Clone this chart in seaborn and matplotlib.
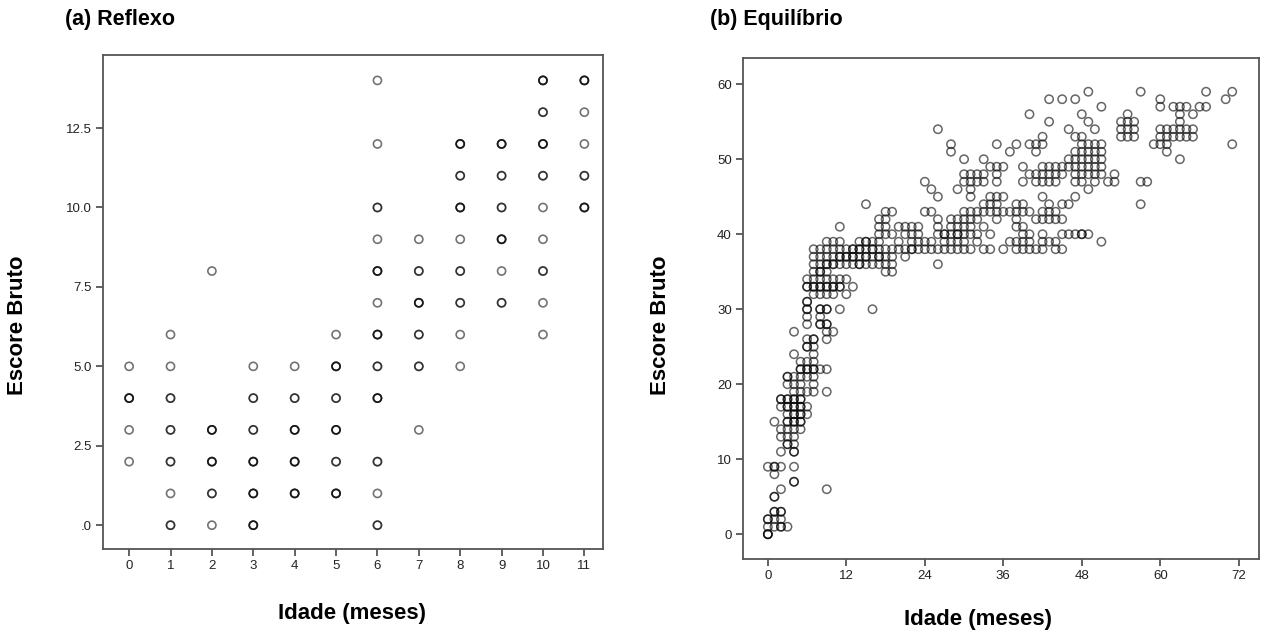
import numpy as np
import pandas as pd
import matplotlib
matplotlib.use("Agg")
import matplotlib.pyplot as plt
import seaborn as sns

# ---- (a) Reflexo: age in months, raw score, number of children at that point
reflexo_idade = [0, 0, 0, 0,
                 1, 1, 1, 1, 1, 1, 1,
                 2, 2, 2, 2, 2,
                 3, 3, 3, 3, 3, 3,
                 4, 4, 4, 4, 4,
                 5, 5, 5, 5, 5, 5,
                 6, 6, 6, 6, 6, 6, 6, 6, 6, 6, 6, 6,
                 7, 7, 7, 7, 7, 7,
                 8, 8, 8, 8, 8, 8, 8, 8,
                 9, 9, 9, 9, 9, 9,
                 10, 10, 10, 10, 10, 10, 10, 10, 10,
                 11, 11, 11, 11, 11]
reflexo_escore = [2, 3, 4, 5,
                  0, 1, 2, 3, 4, 5, 6,
                  0, 1, 2, 3, 8,
                  0, 1, 2, 3, 4, 5,
                  1, 2, 3, 4, 5,
                  1, 2, 3, 4, 5, 6,
                  0, 1, 2, 4, 5, 6, 7, 8, 9, 10, 12, 14,
                  3, 5, 6, 7, 8, 9,
                  5, 6, 7, 8, 9, 10, 11, 12,
                  7, 8, 9, 10, 11, 12,
                  6, 7, 8, 9, 10, 11, 12, 13, 14,
                  10, 11, 12, 13, 14]
reflexo_n = [1, 1, 3, 1,
             2, 1, 2, 2, 2, 1, 1,
             1, 2, 3, 3, 1,
             3, 3, 3, 2, 2, 1,
             3, 3, 3, 2, 1,
             3, 2, 3, 2, 3, 1,
             2, 1, 2, 3, 2, 3, 1, 3, 1, 2, 1, 1,
             1, 2, 2, 3, 2, 1,
             1, 1, 2, 2, 1, 3, 2, 3,
             2, 1, 3, 2, 2, 3,
             1, 1, 2, 1, 1, 2, 3, 2, 3,
             3, 2, 1, 1, 3]

reflexo_yticks = [0, 2.5, 5.0, 7.5, 10.0, 12.5]
reflexo_yticklabels = [".0", "2.5", "5.0", "7.5", "10.0", "12.5"]
reflexo_xticks = list(range(12))

# ---- (b) Equilíbrio: scores observed at each age (months)
equilibrio_idade = list(range(0, 68)) + [70, 71]
equilibrio_escores = [
    [0, 0, 0, 1, 2, 2, 9],
    [1, 2, 3, 3, 5, 5, 8, 9, 9, 15],
    [1, 1, 2, 3, 3, 6, 9, 11, 13, 14, 17, 18, 18],
    [1, 12, 12, 13, 14, 15, 15, 16, 17, 17, 18, 18, 20, 21, 21],
    [7, 7, 9, 11, 11, 12, 13, 14, 15, 15, 16, 16, 17, 17, 18, 18, 19, 20, 21, 24, 27],
    [14, 15, 15, 16, 16, 17, 17, 18, 18, 19, 20, 21, 22, 22, 23],
    [16, 17, 19, 21, 22, 22, 23, 25, 25, 26, 28, 29, 30, 30, 31, 31, 33, 33, 34],
    [19, 20, 21, 22, 22, 23, 24, 25, 26, 26, 32, 33, 33, 34, 35, 36, 37, 38],
    [22, 28, 28, 29, 30, 30, 32, 33, 33, 34, 35, 35, 36, 37, 38],
    [6, 19, 22, 26, 27, 28, 28, 30, 30, 32, 33, 33, 34, 35, 36, 36, 37, 38, 39],
    [27, 32, 33, 33, 34, 36, 36, 37, 38, 39],
    [30, 33, 33, 34, 36, 37, 37, 38, 39, 41],
    [32, 34, 36, 37, 37, 38],
    [33, 36, 37, 37, 38, 38],
    [36, 36, 37, 38, 38, 39],
    [36, 37, 37, 38, 39, 39, 44],
    [30, 36, 37, 38, 38, 39],
    [36, 37, 37, 38, 39, 40, 41, 42],
    [35, 36, 37, 38, 40, 41, 42, 43],
    [35, 36, 37, 38, 40, 43],
    [38, 39, 41],
    [37, 38, 40, 41],
    [38, 38, 39, 40, 41],
    [38, 39, 40, 41],
    [38, 39, 43, 47],
    [38, 39, 43, 46],
    [36, 38, 40, 41, 42, 45, 54],
    [38, 39, 40, 40],
    [38, 39, 40, 41, 42, 51, 52],
    [38, 39, 40, 40, 41, 42, 46],
    [38, 39, 40, 41, 42, 43, 47, 48, 50],
    [38, 40, 41, 42, 43, 45, 46, 47, 48],
    [39, 40, 42, 43, 47, 48],
    [38, 41, 43, 44, 47, 48, 50],
    [38, 40, 43, 44, 45, 49],
    [42, 43, 44, 45, 47, 48, 49, 52],
    [38, 43, 45, 49],
    [39, 43, 51],
    [38, 39, 41, 42, 43, 44, 52],
    [38, 39, 40, 41, 43, 44, 47, 49],
    [38, 39, 40, 43, 48, 52, 56],
    [38, 42, 47, 48, 51, 52],
    [38, 39, 40, 42, 43, 45, 47, 48, 49, 52, 53],
    [39, 42, 43, 44, 47, 48, 49, 55, 58],
    [38, 39, 42, 43, 47, 48, 49],
    [38, 40, 42, 44, 48, 49, 58],
    [40, 44, 49, 50, 54],
    [40, 45, 47, 48, 49, 50, 51, 53, 58],
    [40, 40, 47, 48, 49, 50, 51, 52, 53, 56],
    [40, 46, 48, 49, 50, 51, 52, 55, 59],
    [47, 48, 49, 50, 51, 52, 54],
    [39, 48, 49, 50, 51, 52, 57],
    [47],
    [47, 48],
    [53, 54, 55],
    [53, 54, 55, 56],
    [53, 54, 55],
    [44, 47, 59],
    [47],
    [52],
    [52, 53, 54, 57, 58],
    [51, 52, 53, 54],
    [53, 54, 57],
    [50, 53, 54, 55, 56, 57],
    [53, 54, 57],
    [53, 54, 56],
    [57],
    [57, 59],
    [58],
    [52, 59],
]
equilibrio_yticks = [0, 10, 20, 30, 40, 50, 60]
equilibrio_xticks = [0, 12, 24, 36, 48, 60, 72]

# ---- tidy tables
df_a = pd.DataFrame({"idade": np.repeat(reflexo_idade, reflexo_n),
                     "escore": np.repeat(reflexo_escore, reflexo_n)})
df_b = pd.DataFrame({
    "idade": [a for a, sc in zip(equilibrio_idade, equilibrio_escores) for _ in sc],
    "escore": [s for sc in equilibrio_escores for s in sc],
})

sns.set_theme(style="ticks")
plt.rcParams["font.family"] = ["Liberation Sans", "DejaVu Sans"]

fig = plt.figure(figsize=(12.66, 6.35), dpi=100)
ax1 = fig.add_axes([0.0814, 0.1354, 0.3949, 0.7780])
ax2 = fig.add_axes([0.5869, 0.1197, 0.4076, 0.7890])

spine_col = "#555555"

sns.scatterplot(data=df_a, x="idade", y="escore", ax=ax1, marker="o", s=34,
                facecolors="none", edgecolor="black", linewidth=1.2, alpha=0.55,
                legend=False)
sns.scatterplot(data=df_b, x="idade", y="escore", ax=ax2, marker="o", s=36,
                facecolors="none", edgecolor="black", linewidth=1.1, alpha=0.6,
                legend=False)

ax1.set_xlim(-0.63, 11.45)
ax1.set_ylim(-0.75, 14.8)
ax1.set_xticks(reflexo_xticks)
ax1.set_yticks(reflexo_yticks)
ax1.set_yticklabels(reflexo_yticklabels)

ax2.set_xlim(-3.8, 75.1)
ax2.set_ylim(-3.3, 63.5)
ax2.set_xticks(equilibrio_xticks)
ax2.set_yticks(equilibrio_yticks)

for ax in (ax1, ax2):
    ax.set_xlabel("")
    ax.set_ylabel("")
    for sp in ax.spines.values():
        sp.set_visible(True)
        sp.set_color(spine_col)
        sp.set_linewidth(1.3)
    ax.tick_params(axis="both", direction="out", length=5, width=1.3,
                   color=spine_col, labelsize=9.5, labelcolor="#222222", pad=3,
                   top=False, right=False)

bold = dict(fontweight="bold", color="black")
fig.text(65 / 1266, 1 - 19 / 635, "(a) Reflexo", ha="left", va="center", fontsize=15.5, **bold)
fig.text(710 / 1266, 1 - 19 / 635, "(b) Equilíbrio", ha="left", va="center", fontsize=15.5, **bold)
fig.text(18 / 1266, 1 - 325 / 635, "Escore Bruto", rotation=90, ha="center", va="center", fontsize=16, **bold)
fig.text(660 / 1266, 1 - 325 / 635, "Escore Bruto", rotation=90, ha="center", va="center", fontsize=16, **bold)
fig.text(352 / 1266, 1 - 613 / 635, "Idade (meses)", ha="center", va="center", fontsize=16, **bold)
fig.text(978 / 1266, 1 - 620 / 635, "Idade (meses)", ha="center", va="center", fontsize=16, **bold)

fig.savefig("out.png", dpi=100, facecolor="white")
